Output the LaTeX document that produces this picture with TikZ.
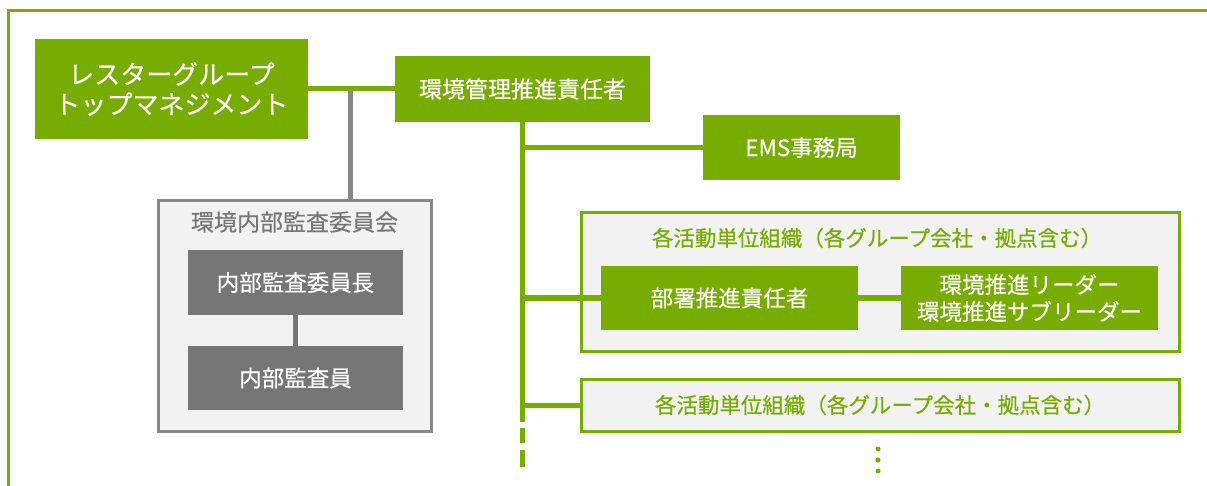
\documentclass[tikz,border=0pt]{standalone}
\usepackage{fontspec}
\setmainfont{Noto Sans CJK JP}[FakeBold=0.4]
\definecolor{egreen}{RGB}{118,173,0}
\definecolor{dgray}{RGB}{118,118,118}
\definecolor{mgray}{RGB}{135,135,135}
\definecolor{lfill}{RGB}{242,242,242}
\begin{document}
\begin{tikzpicture}[x=1pt,y=-1pt,
  gbox/.style={fill=egreen,text=white,inner sep=0pt,align=center,font=\fontsize{22.5}{27}\selectfont},
  graybox/.style={fill=dgray,text=white,inner sep=0pt,align=center,font=\fontsize{22.5}{27}\selectfont,minimum width=215pt,minimum height=65pt},
  orgbox/.style={draw=egreen,line width=3pt,fill=lfill,inner sep=0pt,minimum width=598pt},
  gline/.style={draw=egreen,line width=5pt},
  grline/.style={draw=mgray,line width=5pt},
  dgline/.style={draw=dgray,line width=5pt}]
\useasboundingbox (0,0) rectangle (1207,486);
\fill[white] (0,0) rectangle (1207,486);
% outer frame
\draw[egreen,line width=3pt] (8,486) -- (8,11) -- (1207,11);
% committee
\node[draw=mgray,line width=3pt,fill=lfill,minimum width=273pt,minimum height=230pt,inner sep=0pt] (cm) at (294.5,316) {};
\node[text=dgray,font=\fontsize{23}{27}\selectfont,inner sep=0pt] (cmt) at (294.5,222) {環境内部監査委員会};
\node[graybox] (chief) at (295.5,282.5) {内部監査委員長};
\node[graybox,minimum height=64pt] (aud) at (295.5,378) {内部監査員};
\draw[dgline] (chief.south) -- (aud.north);
% top management
\node[gbox,minimum width=273pt,minimum height=100pt,font=\fontsize{26}{30}\selectfont] (tm) at (171.5,89) {レスターグループ\\トップマネジメント};
\node[gbox,minimum width=255pt,minimum height=66pt,font=\fontsize{23}{27}\selectfont] (emp) at (522.5,89) {環境管理推進責任者};
\coordinate (j1) at (350,89);
\draw[grline] (j1) -- (j1 |- cm.north);
\draw[gline] (tm.east) -- (emp.west);
% EMS
\node[gbox,minimum width=197pt,minimum height=65pt] (ems) at (801.5,147.5) {EMS事務局};
% org boxes
\node[orgbox,minimum height=138pt] (org1) at (880,282) {};
\node[text=egreen,font=\fontsize{21.5}{26}\selectfont,inner sep=0pt] (org1t) at (877,238) {各活動単位組織（各グループ会社・拠点含む）};
\node[gbox,minimum width=257pt,minimum height=64pt] (bu) at (729.5,298) {部署推進責任者};
\node[gbox,minimum width=257pt,minimum height=64pt] (ld) at (1029.5,298) {環境推進リーダー\\環境推進サブリーダー};
\node[orgbox,minimum height=52pt,text=egreen,font=\fontsize{21.5}{26}\selectfont] (org2) at (880,405) {各活動単位組織（各グループ会社・拠点含む）};
% connectors
\coordinate (vend) at (522.5,422);
\coordinate (vtail) at (522.5,467);
\draw[gline] (emp.south) -- (vend);
\draw[gline,dash pattern=on 15pt off 7pt on 17pt off 30pt] (522.5,428) -- (vtail);
\draw[gline] (emp.south |- ems.west) -- (ems.west);
\draw[gline] (emp.south |- bu.west) -- (bu.west);
\draw[gline] (emp.south |- org2.west) -- (org2.west);
\draw[gline] (bu.east) -- (ld.west);
% dots
\foreach \yy/\nm in {449/d1,460/d2,471/d3} \node[fill=egreen,circle,inner sep=0pt,minimum size=5pt] (\nm) at (878,\yy) {};
\end{tikzpicture}
\end{document}
